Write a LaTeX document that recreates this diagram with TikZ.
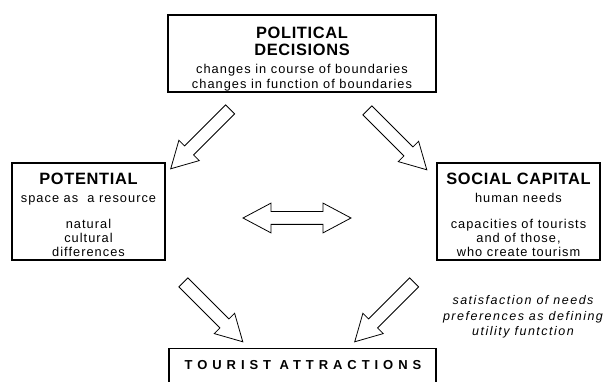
\documentclass[tikz,border=0pt]{standalone}
\usepackage{fontspec}
\setmainfont{Liberation Sans}
\usetikzlibrary{shapes.arrows}
\newfontfamily\headfont[LetterSpace=4]{Liberation Sans Bold}
\newfontfamily\bodyfont[LetterSpace=8]{Liberation Sans}
\newfontfamily\notefont[LetterSpace=12]{Liberation Sans Italic}
\newfontfamily\basefont[LetterSpace=38]{Liberation Sans Bold}
\def\hd{\headfont\fontsize{16.4}{13.5}\selectfont}
\def\bd{\bodyfont\fontsize{12.8}{13.5}\selectfont}
\def\nt{\notefont\fontsize{12.5}{15.5}\selectfont}
\tikzset{
  box/.style={draw, line width=1.3pt, inner sep=0pt, align=center, font=\bd},
  bigarrow/.style={single arrow, draw, line width=0.8pt, inner xsep=0pt, inner ysep=6pt,
    minimum height=84pt, single arrow head extend=8pt,
    single arrow tip angle=58},
  twoarrow/.style={double arrow, draw, line width=0.8pt, inner xsep=0pt, inner ysep=6pt,
    minimum height=108pt, double arrow head extend=8.5pt,
    double arrow tip angle=56}
}
\begin{document}
\begin{tikzpicture}[x=1pt,y=-1pt]
			%%%%% START %%%%%
			\clip (0,0) rectangle (613,382);
			
			\node[box, minimum width=268pt, minimum height=77pt] (decisions) at (302,53.5)
			{\rule{0pt}{22.5pt}\hd POLITICAL\\[4pt]\hd DECISIONS\\[4.5pt]
			 changes in course of boundaries\\[1pt]
			 changes in function of boundaries};
			
			\node[box, minimum width=153pt, minimum height=97pt] (potential) at (88.5,211.5)
			{\rule{0pt}{18pt}\hd POTENTIAL\\[4.5pt]
			 space as\ \ a resource\\[12.5pt]
			 natural\\[0.5pt]cultural\\[0.5pt]differences};
			
			\node[box, minimum width=163pt, minimum height=97pt] (capital) at (518.5,211.5)
			{\rule{0pt}{18pt}\hd SOCIAL CAPITAL\\[4.5pt]
			 human needs\\[12.5pt]
			 capacities of tourists\\[0.5pt]and of those,\\[0.5pt]who create tourism};
			
			\node[box, minimum width=267pt, minimum height=60pt, anchor=north] (attractions) at (302.5,348)
			{};
			\node (attrtext) at (303,365.5) {\basefont\fontsize{13}{14}\selectfont TOURIST ATTRACTIONS};
			
			\node[align=center, font=\nt] (needs) at (523,317)
			{satisfaction of needs\\
			 preferences as defining\\utility funtction};
			
			% block arrows
			\node[bigarrow, rotate=-135] (a1) at (204.5,135) {};
			\node[bigarrow, rotate=-45] (a2) at (393,136) {};
			\node[bigarrow, rotate=-45] (a3) at (209,308) {};
			\node[bigarrow, rotate=-135] (a4) at (388.5,308) {};
			\node[twoarrow] (a5) at (297,218) {};
			
			%%%%% END %%%%%
\end{tikzpicture}
\end{document}
